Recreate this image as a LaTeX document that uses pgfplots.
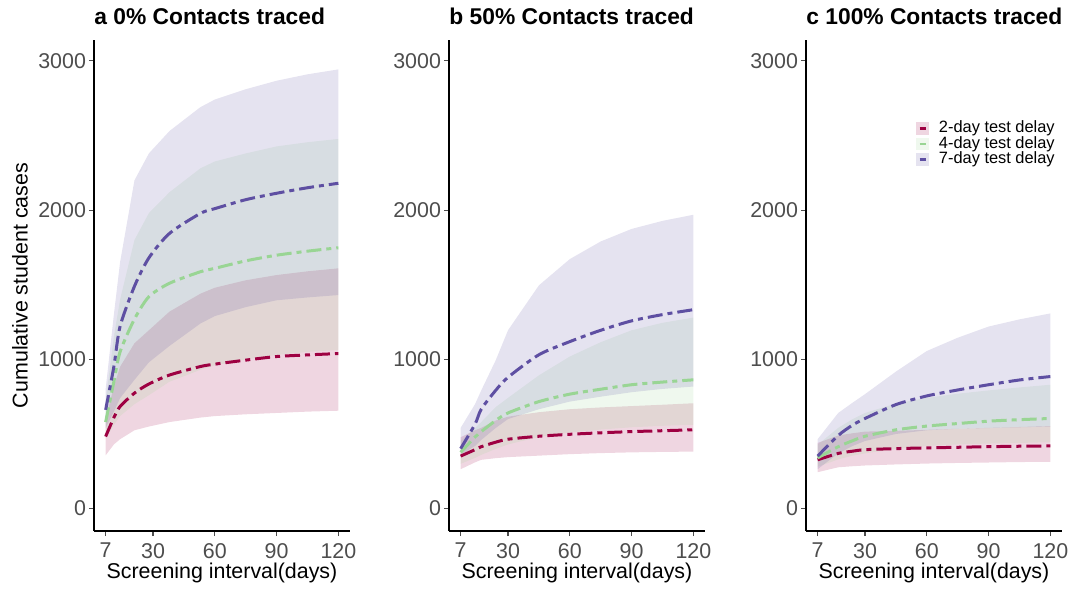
\documentclass[border=0pt]{standalone}
\usepackage{fontspec}
\setmainfont{Liberation Sans}
\usepackage{pgfplots}
\usepackage{pgfplotstable}
\pgfplotsset{compat=1.18}
\usepgfplotslibrary{fillbetween}

\definecolor{cR}{HTML}{9E0142}
\definecolor{cG}{HTML}{99D594}
\definecolor{cP}{HTML}{5E4FA2}
\definecolor{tickc}{HTML}{4D4D4D}

% x: screening interval; r/g/p = 2/4/7-day delay; l/m/u = lower, median, upper
\pgfplotstableread{
x   rl  rm   ru   gl   gm   gu   pl   pm   pu
7   357 483  600  470  580  720  540  662  800
11  430 610  818  560  850  1150 650  952  1300
14  465 684  950  620  1050 1400 740  1220 1650
21  525 774  1108 700  1270 1800 863  1490 2200
28  550 835  1195 760  1420 1980 980  1680 2380
38  580 895  1320 850  1510 2120 1090 1844 2530
53  610 952  1440 930  1587 2280 1240 1978 2690
60  620 968  1480 960  1610 2326 1290 2010 2741
75  632 995  1530 1000 1660 2380 1350 2070 2810
90  641 1019 1565 1030 1698 2427 1396 2113 2867
105 650 1030 1590 1050 1725 2455 1415 2150 2910
120 656 1039 1610 1063 1748 2477 1431 2180 2943
}\TA
\pgfplotstableread{
x   rl  rm  ru  gl  gm  gu   pl  pm   pu
7   264 352 478 300 377 453  360 402  541
14  310 395 525 340 480 540  420 566  700
17  327 415 541 360 516 580  460 666  792
24  338 445 590 400 590 680  540 792  993
30  345 465 616 430 641 742  600 880  1195
45  355 485 646 480 717 893  666 1031 1496
60  365 498 666 510 767 1019 717 1119 1672
75  372 508 678 530 800 1115 750 1195 1790
90  377 516 687 545 830 1195 780 1258 1874
105 380 522 696 555 848 1245 802 1300 1928
120 382 528 706 562 863 1280 818 1333 1969
}\TB
\pgfplotstableread{
x   rl  rm  ru  gl  gm  gu  pl  pm  pu
7   244 327 440 280 340 428 264 352 465
17  277 370 490 330 415 541 370 490 641
24  284 385 505 355 455 600 420 560 710
30  289 395 516 370 485 641 453 604 767
45  296 402 521 400 528 704 500 697 918
60  302 407 528 420 553 742 525 755 1056
75  306 411 535 430 570 770 535 795 1145
90  309 415 541 436 586 792 540 830 1220
105 312 418 547 440 596 812 545 862 1268
120 314 420 553 445 604 830 550 885 1308
}\TC

\pgfplotsset{
  panel/.style={
    scale only axis, width=128pt, height=245.5pt,
    xmin=1.35, xmax=125.65, ymin=-150, ymax=3140,
    axis lines=left, axis line style={-, line width=0.65pt, black},
    xtick={7,30,60,90,120}, ytick={0,1000,2000,3000},
    tick align=outside, major tick length=2.5pt,
    tick style={line width=0.55pt, tickc},
    /pgf/number format/assume math mode=true,
    scaled y ticks=false,
    yticklabel style={/pgf/number format/set thousands separator={}, xshift=2pt},
    tick label style={font=\fontsize{10.7}{12}\selectfont, text=tickc},
    label style={font=\fontsize{10.7}{12}\selectfont, text=black},
    xlabel={Screening interval(days)},
    xlabel style={at={(axis description cs:0.5,-0.0855)}, anchor=center},
    every axis title/.style={font=\fontsize{11.4}{13}\selectfont\bfseries, at={(axis description cs:0,1)}, anchor=base west, yshift=7.8pt, inner sep=0pt},
    clip=true,
  },
  rib/.style={draw=none, fill=#1, fill opacity=0.16, forget plot},
  med/.style={#1, line width=1.5pt, line cap=butt, smooth, tension=0.45, dash pattern=on 7.5pt off 2.5pt on 2.5pt off 2.5pt, forget plot},
  hid/.style={draw=none, forget plot},
}

\begin{document}
\begin{tikzpicture}

% ---------------- panel a
\begin{axis}[panel, title={a 0\% Contacts traced},
  ylabel={Cumulative student cases},
  ylabel style={at={(axis description cs:-0.289,0.5)}, anchor=center}]
\addplot[hid, name path=aru] table[x=x,y=ru]{\TA};
\addplot[hid, name path=arl] table[x=x,y=rl]{\TA};
\addplot[rib=cR] fill between[of=aru and arl];
\addplot[hid, name path=agu] table[x=x,y=gu]{\TA};
\addplot[hid, name path=agl] table[x=x,y=gl]{\TA};
\addplot[rib=cG] fill between[of=agu and agl];
\addplot[hid, name path=apu] table[x=x,y=pu]{\TA};
\addplot[hid, name path=apl] table[x=x,y=pl]{\TA};
\addplot[rib=cP] fill between[of=apu and apl];
\addplot[med=cR] table[x=x,y=rm]{\TA};
\addplot[med=cG] table[x=x,y=gm]{\TA};
\addplot[med=cP] table[x=x,y=pm]{\TA};
\end{axis}

% ---------------- panel b
\begin{axis}[panel, at={(177.5pt,0pt)}, title={b 50\% Contacts traced}]
\addplot[hid, name path=bru] table[x=x,y=ru]{\TB};
\addplot[hid, name path=brl] table[x=x,y=rl]{\TB};
\addplot[rib=cR] fill between[of=bru and brl];
\addplot[hid, name path=bgu] table[x=x,y=gu]{\TB};
\addplot[hid, name path=bgl] table[x=x,y=gl]{\TB};
\addplot[rib=cG] fill between[of=bgu and bgl];
\addplot[hid, name path=bpu] table[x=x,y=pu]{\TB};
\addplot[hid, name path=bpl] table[x=x,y=pl]{\TB};
\addplot[rib=cP] fill between[of=bpu and bpl];
\addplot[med=cR] table[x=x,y=rm]{\TB};
\addplot[med=cG] table[x=x,y=gm]{\TB};
\addplot[med=cP] table[x=x,y=pm]{\TB};
\end{axis}

% ---------------- panel c
\begin{axis}[panel, at={(356pt,0pt)}, title={c 100\% Contacts traced},
  legend style={at={(0.431,0.8356)}, anchor=north west, draw=none, fill=none,
    inner sep=0pt, outer sep=0pt, row sep=0pt, column sep=5pt,
    font=\fontsize{8.2}{9}\selectfont,
    nodes={inner sep=0pt, text height=6pt, text depth=1.75pt}},
  legend cell align=left]
\addplot[hid, name path=cru] table[x=x,y=ru]{\TC};
\addplot[hid, name path=crl] table[x=x,y=rl]{\TC};
\addplot[rib=cR] fill between[of=cru and crl];
\addplot[hid, name path=cgu] table[x=x,y=gu]{\TC};
\addplot[hid, name path=cgl] table[x=x,y=gl]{\TC};
\addplot[rib=cG] fill between[of=cgu and cgl];
\addplot[hid, name path=cpu] table[x=x,y=pu]{\TC};
\addplot[hid, name path=cpl] table[x=x,y=pl]{\TC};
\addplot[rib=cP] fill between[of=cpu and cpl];
\addplot[med=cR] table[x=x,y=rm]{\TC};
\addplot[med=cG] table[x=x,y=gm]{\TC};
\addplot[med=cP] table[x=x,y=pm]{\TC};
\addlegendimage{legend image code/.code={\path[draw=none, fill=cR, fill opacity=0.16] (0pt,-3.15pt) rectangle (6.3pt,3.15pt); \path[draw=cR, line width=1.4pt, solid] (1.6pt,0pt) -- (4.7pt,0pt);}}
\addlegendentry{2-day test delay}
\addlegendimage{legend image code/.code={\path[draw=none, fill=cG, fill opacity=0.16] (0pt,-3.15pt) rectangle (6.3pt,3.15pt); \path[draw=cG, line width=1.4pt, solid] (1.6pt,0pt) -- (4.7pt,0pt);}}
\addlegendentry{4-day test delay}
\addlegendimage{legend image code/.code={\path[draw=none, fill=cP, fill opacity=0.16] (0pt,-3.15pt) rectangle (6.3pt,3.15pt); \path[draw=cP, line width=1.4pt, solid] (1.6pt,0pt) -- (4.7pt,0pt);}}
\addlegendentry{7-day test delay}
\end{axis}

\path (-47pt,-29pt) rectangle (496.5pt,265.5pt);
\end{tikzpicture}
\end{document}
